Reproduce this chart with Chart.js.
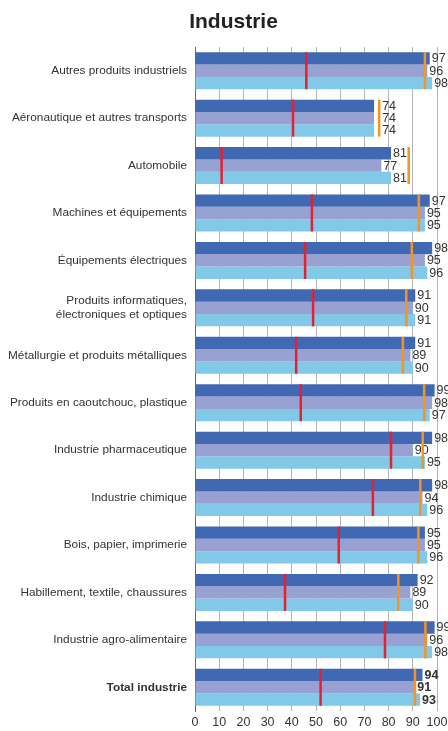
<!DOCTYPE html>
<html>
<head>
<meta charset="utf-8">
<script src="https://cdn.jsdelivr.net/npm/chart.js@4.4.1/dist/chart.umd.min.js"></script>
<style>
  body { margin: 0; background: #fff; }
  canvas { display: block; }
</style>
</head>
<body>
<canvas id="chart" width="448" height="731"></canvas>
<script>
var categories = [
    'Autres produits industriels',
    'Aéronautique et autres transports',
    'Automobile',
    'Machines et équipements',
    'Équipements électriques',
    ['Produits informatiques,', 'électroniques et optiques'],
    'Métallurgie et produits métalliques',
    'Produits en caoutchouc, plastique',
    'Industrie pharmaceutique',
    'Industrie chimique',
    'Bois, papier, imprimerie',
    'Habillement, textile, chaussures',
    'Industrie agro-alimentaire',
    'Total industrie'
];
var serie1 = [97, 74, 81, 97, 98, 91, 91, 99, 98, 98, 95, 92, 99, 94];
var serie2 = [96, 74, 77, 95, 95, 90, 89, 98, 90, 94, 95, 89, 96, 91];
var serie3 = [98, 74, 81, 95, 96, 91, 90, 97, 95, 96, 96, 90, 98, 93];
var redMarks = [46, 40.5, 11, 48.3, 45.5, 48.8, 41.8, 43.7, 81, 73.5, 59.4, 37.2, 78.5, 51.9];
var orangeMarks = [95, 76.1, 88.3, 92.5, 89.6, 87.3, 85.9, 94.7, 94.1, 93.1, 92.3, 84, 95.2, 90.9];
var xTicks = [0, 10, 20, 30, 40, 50, 60, 70, 80, 90, 100];

var font = "'Liberation Sans', Arial, sans-serif";
var lastIdx = categories.length - 1;

// title drawn by hand so it can sit a bit right of canvas centre like the original
var titlePlugin = {
    id: 'titre',
    afterDraw: function (chart) {
        var ctx = chart.ctx;
        ctx.save();
        ctx.font = 'bold 21px ' + font;
        ctx.fillStyle = '#222';
        ctx.textAlign = 'center';
        ctx.textBaseline = 'middle';
        ctx.fillText('Industrie', 233.5, 22);
        ctx.restore();
    }
};

// value labels at the end of each bar, drawn before the marker lines
var valuePlugin = {
    id: 'valeurs',
    afterDatasetDraw: function (chart, args) {
        if (args.index !== 0) return;
        var ctx = chart.ctx;
        var orange = chart.getDatasetMeta(4);
        ctx.save();
        ctx.fillStyle = '#333';
        ctx.textAlign = 'left';
        ctx.textBaseline = 'middle';
        for (var d = 0; d < 3; d++) {
            var meta = chart.getDatasetMeta(d);
            var values = chart.data.datasets[d].data;
            meta.data.forEach(function (bar, i) {
                var x = bar.x + 2;
                // push the label past the orange mark when it sits just after the bar
                var ox = orange.data[i].x;
                if (ox > bar.x && ox - bar.x < 8) x = ox + 3;
                ctx.font = (i === lastIdx ? 'bold ' : '') + '12.5px ' + font;
                ctx.fillText(values[i], x, bar.y + 0.5);
            });
        }
        ctx.restore();
    }
};

var markerStyle = {
    type: 'line',
    indexAxis: 'y',
    showLine: false,
    pointStyle: 'line',
    pointRotation: 90,
    pointRadius: 18.5,
    pointHoverRadius: 18.5,
    pointBorderWidth: 2.5,
    order: 0
};

new Chart(document.getElementById('chart'), {
    type: 'bar',
    data: {
        labels: categories,
        datasets: [
            { data: serie1, backgroundColor: '#4169b3', order: 1 },
            { data: serie2, backgroundColor: '#97a2d2', order: 1 },
            { data: serie3, backgroundColor: '#82c8e8', order: 1 },
            Object.assign({ data: redMarks, pointBorderColor: '#e8202e', borderColor: '#e8202e' }, markerStyle),
            Object.assign({ data: orangeMarks, pointBorderColor: '#f7931e', borderColor: '#f7931e' }, markerStyle)
        ]
    },
    options: {
        indexAxis: 'y',
        responsive: false,
        animation: false,
        events: [],
        datasets: {
            bar: { barPercentage: 1, categoryPercentage: 0.78, borderWidth: 0 }
        },
        layout: { autoPadding: false, padding: { top: 47, right: 0, left: 0, bottom: 0 } },
        plugins: {
            legend: { display: false },
            tooltip: { enabled: false },
            title: { display: false }
        },
        scales: {
            x: {
                min: 0,
                max: 100,
                afterBuildTicks: function (scale) {
                    scale.ticks = xTicks.map(function (v) { return { value: v }; });
                },
                afterFit: function (scale) {
                    scale.height = 20;
                    scale.paddingLeft = 0;
                    scale.paddingRight = 11;
                },
                grid: { color: '#b5b5b5', lineWidth: 1, drawTicks: false },
                border: { display: false },
                ticks: {
                    autoSkip: false,
                    padding: 4,
                    color: '#333',
                    maxRotation: 0,
                    font: { family: font, size: 12.5 }
                }
            },
            y: {
                afterFit: function (scale) { scale.width = 195; },
                grid: { display: false, drawTicks: false },
                border: { display: true, color: '#666', width: 1 },
                ticks: {
                    autoSkip: false,
                    padding: 8,
                    color: '#333',
                    font: function (c) {
                        return {
                            family: font,
                            size: 11.8,
                            lineHeight: 1.25,
                            weight: c.index === lastIdx ? 'bold' : 'normal'
                        };
                    }
                }
            }
        }
    },
    plugins: [titlePlugin, valuePlugin]
});
</script>
</body>
</html>
